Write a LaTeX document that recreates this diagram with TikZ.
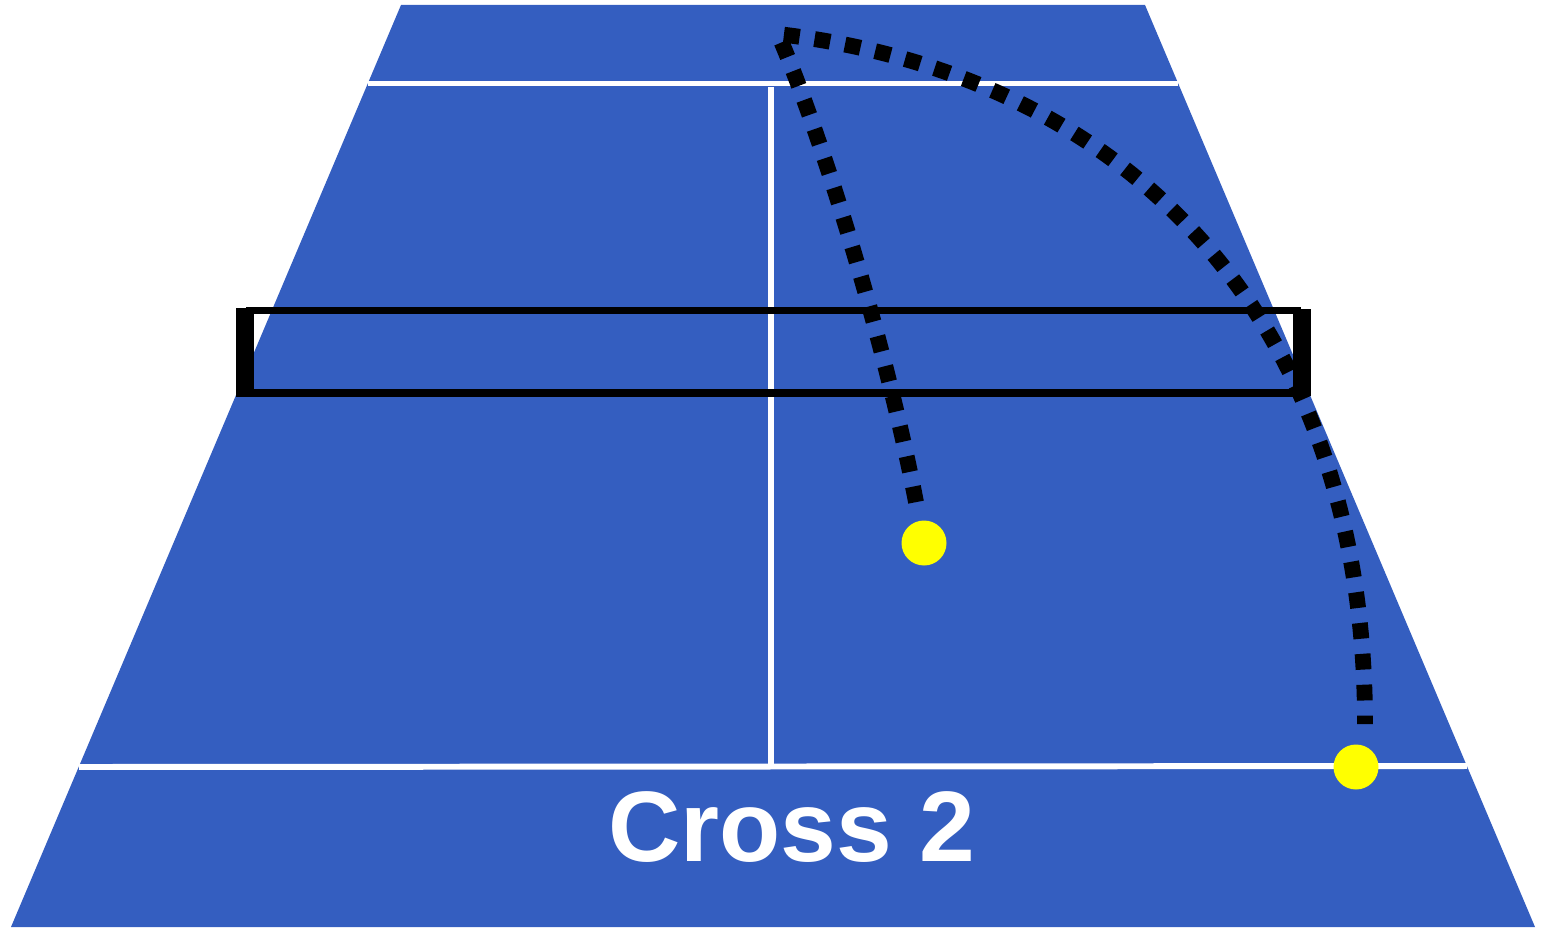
\documentclass[tikz,border=0pt]{standalone}
\definecolor{courtblue}{RGB}{52, 94, 192}
\definecolor{ballyellow}{RGB}{255, 255, 0}
\usepackage{fontspec}
\setsansfont{Liberation Sans}
\usepackage{tikz}
\usetikzlibrary{positioning, calc}

\begin{document}
\begin{tikzpicture}[
  x=0.02cm, y=-0.02cm,
  courtline/.style={draw=white, line width=3.4pt},
  netline/.style={draw=black, line width=4pt},
  post/.style={fill=black},
  ball/.style={circle, fill=ballyellow, minimum size=0.9cm, inner sep=0pt},
  trail/.style={draw=black, line width=9pt, dash pattern=on 9pt off 8.6pt},
  label/.style={font=\sffamily\bfseries\fontsize{57}{60}\selectfont, text=white}
]
  \useasboundingbox (0,0) rectangle (1547,936);

  % Court
  \fill[courtblue] (401,5) -- (1145,5) -- (1535,927) -- (11,927) -- cycle;
  \path[courtline] (368,83.5) -- (1178,83.5);
  \path[courtline] (79,767) -- (1467,766);
  \path[courtline] (771,87) -- (771,765);

  % Net
  \path[netline] (250,310.5) rectangle (1297,393);
  \fill[post] (236,308) rectangle (253,397);
  \fill[post] (1293,309) rectangle (1311,396);

  % Balls
  \node[ball] (ball1) at (924,543) {};
  \node[ball] (ball2) at (1356,767) {};
  \coordinate (apex) at (778,34);

  % Shot path
  \draw[trail] ($(ball1.north)+(-8,-18)$) .. controls (885,340) and (820,130) .. (apex)
    .. controls (1130,75) and (1365,320) .. ($(ball2.north)+(9,-20)$);

  % Label
  \node[label, anchor=base] (title) at (792,861) {Cross 2};
\end{tikzpicture}
\end{document}
